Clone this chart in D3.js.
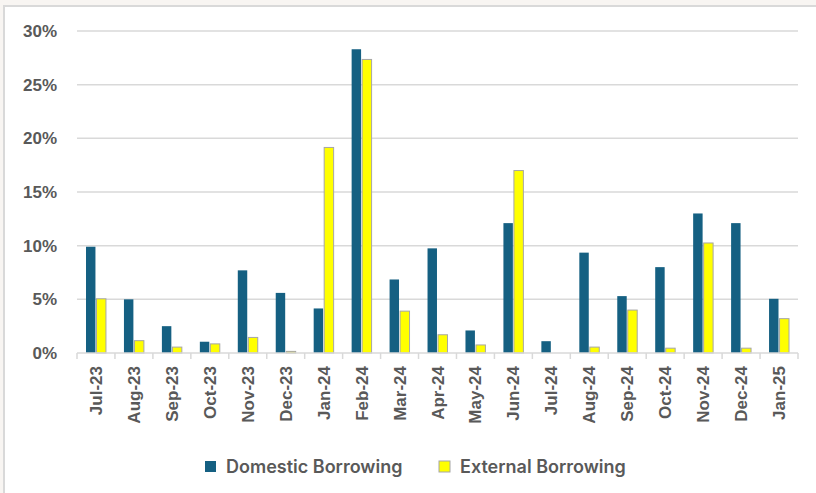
<!DOCTYPE html>
<html>
 <head>
  <meta charset="UTF-8">
  <title>Borrowing</title>
  <style>
    body { margin: 0; background: #f8f5f2; }
    text { font-family: "Liberation Sans", Arial, sans-serif; fill: #595959; }
  </style>
 </head>
 <body>
<div id="viz-wrapper">
</div>
 </body>
 <script src="https://cdn.jsdelivr.net/npm/d3@7"></script>
 <script type="text/javascript">
    // data (percent)
    var months = ['Jul-23', 'Aug-23', 'Sep-23', 'Oct-23', 'Nov-23', 'Dec-23', 'Jan-24',
                  'Feb-24', 'Mar-24', 'Apr-24', 'May-24', 'Jun-24', 'Jul-24', 'Aug-24',
                  'Sep-24', 'Oct-24', 'Nov-24', 'Dec-24', 'Jan-25'];
    var domestic = [9.9, 5.0, 2.5, 1.05, 7.7, 5.6, 4.15, 28.3, 6.85, 9.75, 2.1, 12.1,
                    1.1, 9.35, 5.3, 8.0, 13.0, 12.1, 5.05];
    var external = [5.05, 1.15, 0.55, 0.85, 1.45, 0.15, 19.15, 27.35, 3.9, 1.7, 0.75, 17.0,
                    0, 0.55, 4.0, 0.45, 10.25, 0.45, 3.2];
    var seriesNames = ['Domestic Borrowing', 'External Borrowing'];
    var yTicks = [0, 5, 10, 15, 20, 25, 30];

    var width = 816,
        height = 493;

    // plot area edges
    var plotLeft = 77, plotRight = 798, plotTop = 31, plotBottom = 353;

    var svg = d3.select('#viz-wrapper')
                .append('svg')
                .attr('width', width)
                .attr('height', height)
                .style('display', 'block');

    // white chart area with light border on top and left
    svg.append('rect')
       .attr('x', 4).attr('y', 6)
       .attr('width', width + 10).attr('height', height + 10)
       .style('fill', '#ffffff')
       .style('stroke', '#d9d9d9')
       .style('stroke-width', 2);

    var x = d3.scaleBand().domain(months).range([plotLeft, plotRight]);
    var xs = d3.scaleBand().domain(seriesNames)
               .range([9, x.bandwidth() - 9]).paddingInner(0.1);
    var y = d3.scaleLinear().domain([0, 30]).range([plotBottom, plotTop]);

    // gridlines
    svg.append('g').selectAll('line')
       .data(yTicks.slice(1))
       .enter().append('line')
       .attr('x1', plotLeft).attr('x2', plotRight)
       .attr('y1', function(d) { return y(d); })
       .attr('y2', function(d) { return y(d); })
       .style('stroke', '#d9d9d9')
       .style('stroke-width', 1.5);

    // y axis labels
    var yAxis = d3.axisLeft(y).tickValues(yTicks)
                  .tickFormat(function(d) { return d + '%'; })
                  .tickSize(0).tickPadding(20);
    var gy = svg.append('g').attr('transform', 'translate(' + plotLeft + ',0)').call(yAxis);
    gy.select('.domain').remove();
    gy.selectAll('text')
      .style('font-size', '17px')
      .style('font-weight', 'bold')
      .style('fill', '#595959')
      .style('font-family', '"Liberation Sans", Arial, sans-serif');

    // bars
    var colors = ['#156082', '#ffff00'];
    var values = [domestic, external];
    values.forEach(function(vals, s) {
        svg.append('g').selectAll('rect')
           .data(vals)
           .enter().append('rect')
           .attr('x', function(d, i) { return x(months[i]) + xs(seriesNames[s]); })
           .attr('y', function(d) { return y(d); })
           .attr('width', xs.bandwidth())
           .attr('height', function(d) { return plotBottom - y(d); })
           .style('fill', colors[s])
           .style('stroke', s === 1 ? '#a6a6a6' : 'none')
           .style('stroke-width', s === 1 ? 1 : 0);
    });

    // x axis line and ticks between categories
    svg.append('line')
       .attr('x1', plotLeft).attr('x2', plotRight)
       .attr('y1', plotBottom).attr('y2', plotBottom)
       .style('stroke', '#d9d9d9').style('stroke-width', 1.5);
    svg.append('g').selectAll('line')
       .data(months.concat(['end']))
       .enter().append('line')
       .attr('x1', function(d, i) { return plotLeft + i * x.bandwidth(); })
       .attr('x2', function(d, i) { return plotLeft + i * x.bandwidth(); })
       .attr('y1', plotBottom).attr('y2', plotBottom + 6)
       .style('stroke', '#d9d9d9').style('stroke-width', 1.5);

    // rotated month labels
    svg.append('g').selectAll('text')
       .data(months)
       .enter().append('text')
       .attr('transform', function(d) {
           return 'translate(' + (x(d) + x.bandwidth() / 2 + 6) + ',' + (plotBottom + 13) + ') rotate(-90)';
       })
       .attr('text-anchor', 'end')
       .style('font-size', '17px')
       .style('font-weight', 'bold')
       .text(function(d) { return d; });

    // legend
    var legendX = [205, 439];
    var legend = svg.append('g').selectAll('g')
                    .data(seriesNames)
                    .enter().append('g')
                    .attr('transform', function(d, i) { return 'translate(' + legendX[i] + ',461)'; });
    legend.append('rect')
          .attr('width', 11).attr('height', 11)
          .style('fill', function(d, i) { return colors[i]; })
          .style('stroke', function(d, i) { return i === 1 ? '#a6a6a6' : 'none'; });
    legend.append('text')
          .attr('x', 21).attr('y', 11.5)
          .style('font-family', 'Inter, sans-serif')
          .style('font-size', '18px')
          .style('font-weight', 600)
          .text(function(d) { return d; });
 </script>
</html>
